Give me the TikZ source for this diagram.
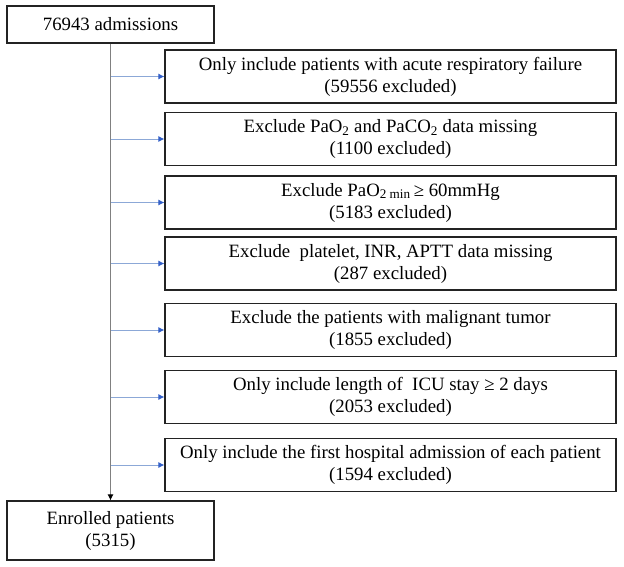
\documentclass[tikz,border=0pt]{standalone}
\usepackage{fontspec}
\setmainfont{Liberation Serif}
\usetikzlibrary{arrows.meta}

\definecolor{boxline}{RGB}{35,35,35}
\definecolor{mainline}{RGB}{128,128,128}
\definecolor{sideline}{RGB}{140,168,215}
\definecolor{sidetip}{RGB}{50,95,200}

\tikzset{
  stagebox/.style={draw=boxline, line width=1.1pt, inner sep=0pt, align=center,
    font=\fontsize{18.8}{22}\selectfont},
  exclbox/.style={stagebox, minimum width=451pt, minimum height=53pt},
  mainflow/.style={draw=mainline, line width=1pt, -{Latex[length=6pt,width=6pt,color=black]}},
  sideflow/.style={draw=sideline, line width=1pt, -{Latex[length=6pt,width=6pt,color=sidetip]}}
}

\begin{document}
\begin{tikzpicture}[x=1pt,y=-1pt]
            \useasboundingbox (0,0) rectangle (624,566);
            \pgfmathsetmacro{\cx}{390.5};
            \node [stagebox, minimum width=207pt, minimum height=37pt] (admit) at (110.5,24.5) {76943 admissions};
            \node [exclbox] (arf) at (\cx,76.5) {Only include patients with acute respiratory failure\\(59556 excluded)};
            \node [exclbox] (gas) at (\cx,139) {Exclude PaO\textsubscript{2} and PaCO\textsubscript{2} data missing\\(1100 excluded)};
            \node [exclbox] (pao) at (\cx,202.5) {Exclude PaO\textsubscript{2 min}\,≥ 60mmHg\\(5183 excluded)};
            \node [exclbox] (coag) at (\cx,263.5) {Exclude\ \ platelet, INR, APTT data missing\\(287 excluded)};
            \node [exclbox] (tumor) at (\cx,330) {Exclude the patients with malignant tumor\\(1855 excluded)};
            \node [exclbox] (icu) at (\cx,397) {Only include length of\ \ ICU stay ≥ 2 days\\(2053 excluded)};
            \node [exclbox] (first) at (\cx,465) {Only include the first hospital admission of each patient\\(1594 excluded)};
            \node [stagebox, minimum width=207pt, minimum height=59pt] (enrol) at (110.5,530.5) {Enrolled patients\\(5315)};
            \draw [mainflow] (admit) -- (enrol);
            \draw [sideflow] (admit.south |- arf.west) -- (arf.west);
            \draw [sideflow] (admit.south |- gas.west) -- (gas.west);
            \draw [sideflow] (admit.south |- pao.west) -- (pao.west);
            \draw [sideflow] (admit.south |- coag.west) -- (coag.west);
            \draw [sideflow] (admit.south |- tumor.west) -- (tumor.west);
            \draw [sideflow] (admit.south |- icu.west) -- (icu.west);
            \draw [sideflow] (admit.south |- first.west) -- (first.west);
        \end{tikzpicture}
\end{document}
